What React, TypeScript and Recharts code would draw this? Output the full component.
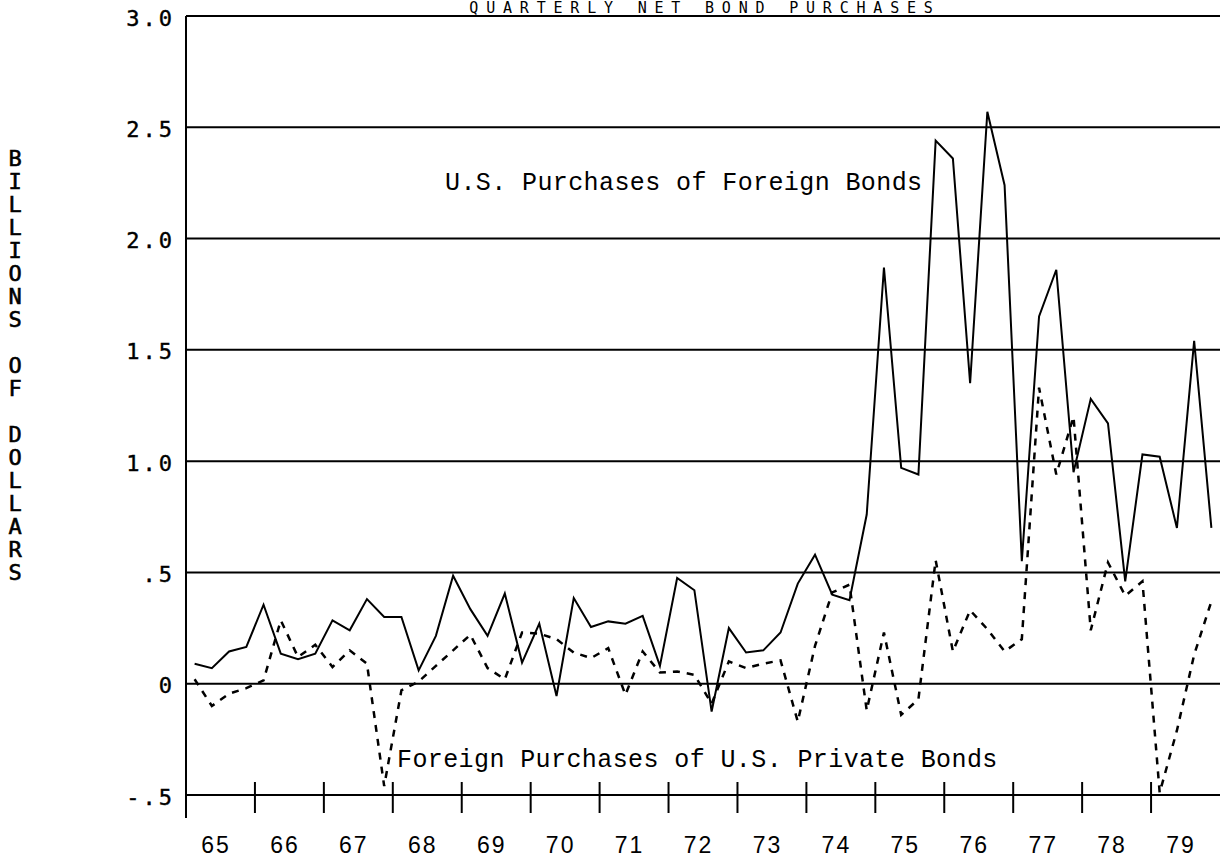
import { CartesianGrid, Line, LineChart, XAxis, YAxis } from "recharts";

// quarterly values, 1965 Q1 .. 1979 Q4 (billions of dollars)
const YEARS = ["65", "66", "67", "68", "69", "70", "71", "72", "73", "74", "75", "76", "77", "78", "79"];

const US_PURCHASES_FOREIGN = [
  0.09, 0.07, 0.145, 0.165,
  0.355, 0.135, 0.11, 0.135,
  0.285, 0.24, 0.38, 0.3,
  0.3, 0.06, 0.215, 0.485,
  0.335, 0.215, 0.405, 0.095,
  0.27, -0.055, 0.385, 0.255,
  0.28, 0.27, 0.305, 0.08,
  0.475, 0.42, -0.125, 0.25,
  0.14, 0.15, 0.23, 0.45,
  0.58, 0.4, 0.375, 0.76,
  1.87, 0.97, 0.94, 2.44,
  2.36, 1.35, 2.57, 2.24,
  0.55, 1.65, 1.86, 0.95,
  1.28, 1.17, 0.46, 1.03,
  1.02, 0.7, 1.54, 0.7
];

const FOREIGN_PURCHASES_US = [
  0.02, -0.1, -0.045, -0.02,
  0.015, 0.285, 0.12, 0.175,
  0.075, 0.15, 0.09, -0.46,
  -0.03, 0.01, 0.08, 0.15,
  0.22, 0.07, 0.02, 0.23,
  0.225, 0.2, 0.14, 0.115,
  0.16, -0.05, 0.145, 0.05,
  0.055, 0.04, -0.09, 0.1,
  0.07, 0.09, 0.105, -0.17,
  0.17, 0.41, 0.445, -0.12,
  0.23, -0.14, -0.07, 0.555,
  0.145, 0.33, 0.245, 0.145,
  0.2, 1.33, 0.94, 1.2,
  0.24, 0.545, 0.395, 0.46,
  -0.49, -0.21, 0.13, 0.37
];

const Y_TICKS = [-0.5, 0, 0.5, 1, 1.5, 2, 2.5, 3];
const Y_LABELS = ["-.5", "0", ".5", "1.0", "1.5", "2.0", "2.5", "3.0"];
const AXIS_TITLE = ["B", "I", "L", "L", "I", "O", "N", "S", "", "O", "F", "", "D", "O", "L", "L", "A", "R", "S"];

const data = US_PURCHASES_FOREIGN.map((v, i) => ({
  q: i,
  us: v,
  foreign: FOREIGN_PURCHASES_US[i]
}));

const yearTicks = YEARS.map((_, k) => k * 4 - 0.5);

const plotterFont = "'DejaVu Sans Mono', monospace";
const typeFont = "'Liberation Mono', 'Courier New', monospace";

function YearTick(props: any) {
  const { x, y, index } = props;
  return (
    <g>
      <line x1={x} x2={x} y1={y - 13} y2={y + (index === 0 ? 23 : 18)} stroke="#000" strokeWidth={2} />
      <text
        x={x + 30}
        y={y + 50}
        textAnchor="middle"
        dominantBaseline="central"
        fontFamily="'Liberation Sans', sans-serif"
        fontSize={23}
        letterSpacing={2}
        fill="#000"
      >
        {YEARS[index]}
      </text>
    </g>
  );
}

function ValueTick(props: any) {
  const { x, y, index } = props;
  return (
    <text
      x={x}
      y={y + 2}
      textAnchor="end"
      dominantBaseline="central"
      fontFamily={plotterFont}
      fontSize={22}
      letterSpacing={3}
      stroke="#000"
      strokeWidth={0.4}
      fill="#000"
    >
      {Y_LABELS[index]}
    </text>
  );
}

export default function App() {
  return (
    <div style={{ position: "absolute", left: 0, top: 0, width: 1220, height: 860, overflow: "hidden", background: "#fff" }}>
      <LineChart width={1220} height={860} data={data} margin={{ top: 16, right: 0, bottom: 15, left: 106 }}>
        <CartesianGrid vertical={false} stroke="#000" strokeWidth={2} strokeDasharray="" />
        <XAxis
          dataKey="q"
          type="number"
          domain={[-0.5, 59.5]}
          ticks={yearTicks}
          interval={0}
          height={50}
          axisLine={false}
          tickLine={false}
          tickSize={0}
          tickMargin={0}
          tick={<YearTick />}
        />
        <YAxis
          type="number"
          domain={[-0.5, 3]}
          ticks={Y_TICKS}
          interval={0}
          width={80}
          axisLine={{ stroke: "#000", strokeWidth: 2 }}
          tickLine={false}
          tickSize={0}
          tickMargin={11}
          tick={<ValueTick />}
        />
        <Line
          type="linear"
          dataKey="us"
          stroke="#000"
          strokeWidth={2}
          dot={false}
          isAnimationActive={false}
        />
        <Line
          type="linear"
          dataKey="foreign"
          stroke="#000"
          strokeWidth={2.5}
          strokeDasharray="7 7"
          dot={false}
          isAnimationActive={false}
        />
      </LineChart>
      <svg
        width={1220}
        height={860}
        style={{ position: "absolute", left: 0, top: 0, pointerEvents: "none" }}
      >
        <text x={705} y={13} textAnchor="middle" fontFamily={plotterFont} fontSize={15} letterSpacing={7.8} fill="#000">
          QUARTERLY NET BOND PURCHASES
        </text>
        <text x={445} y={190} fontFamily={typeFont} fontSize={25} letterSpacing={0.4} fill="#000">
          U.S. Purchases of Foreign Bonds
        </text>
        <text x={397} y={767} fontFamily={typeFont} fontSize={25} letterSpacing={0.4} fill="#000">
          Foreign Purchases of U.S. Private Bonds
        </text>
        {AXIS_TITLE.map((ch, i) => (
          <text
            key={i}
            x={15}
            y={158 + i * 23}
            textAnchor="middle"
            dominantBaseline="central"
            fontFamily={plotterFont}
            fontSize={22}
            stroke="#000"
            strokeWidth={0.6}
            fill="#000"
          >
            {ch}
          </text>
        ))}
      </svg>
    </div>
  );
}
